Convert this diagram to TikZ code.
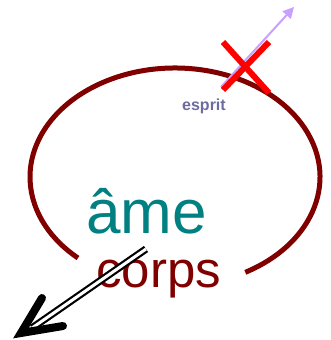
\documentclass[tikz,border=0pt]{standalone}
\usepackage{fontspec}
\setmainfont{Liberation Sans}
\usetikzlibrary{arrows.meta}
\definecolor{maroonc}{RGB}{128,0,0}
\definecolor{tealc}{RGB}{0,128,128}
\definecolor{espritc}{RGB}{108,108,160}
\definecolor{lavc}{RGB}{200,160,255}
\tikzset{
  lbl/.style={inner sep=0pt, anchor=base west},
  ring/.style={draw=maroonc, line width=5pt},
  crossline/.style={draw=red, line width=6pt},
  lavarrow/.style={draw=lavc, line width=2pt, -{Triangle[length=11pt,width=11pt]}},
  dblshaft/.style={draw=black, line width=2.2pt, double=white, double distance=3pt},
  bighead/.style={draw=black, line width=8pt, line cap=round, line join=miter},
}
\begin{document}
\begin{tikzpicture}[x=1pt,y=-1pt]
\useasboundingbox (0,0) rectangle (330,340);
% ellipse arc
\draw[ring] (175,177) ++(61:145 and 109) arc[start angle=61, end angle=-228, x radius=145, y radius=109];
% lavender arrow
\coordinate (la) at (221,87);
\coordinate (lb) at (294,7);
\draw[lavarrow] (la) -- (lb);
% red X
\coordinate (x1) at (223,42);
\coordinate (x2) at (269,93);
\coordinate (x3) at (269,42);
\coordinate (x4) at (223,90);
\draw[crossline] (x1) -- (x2);
\draw[crossline] (x3) -- (x4);
% texts
\node[lbl, text=espritc, font=\bfseries\fontsize{16}{18}\selectfont] (esprit) at (182,110) {esprit};
\node[lbl, text=tealc, font=\fontsize{62}{70}\selectfont] (ame) at (86,233) {âme};
\node[lbl, text=maroonc, font=\fontsize{51}{58}\selectfont] (corps) at (96,287) {corps};
% black double arrow
\coordinate (ds) at (146,249);
\coordinate (de) at (32,328);
\draw[dblshaft] (ds) -- (de);
\coordinate (tip) at (21,333);
\coordinate (arm1) at (42,298);
\coordinate (arm2) at (63,326);
\draw[bighead] (arm1) -- (tip) -- (arm2);
\end{tikzpicture}
\end{document}
